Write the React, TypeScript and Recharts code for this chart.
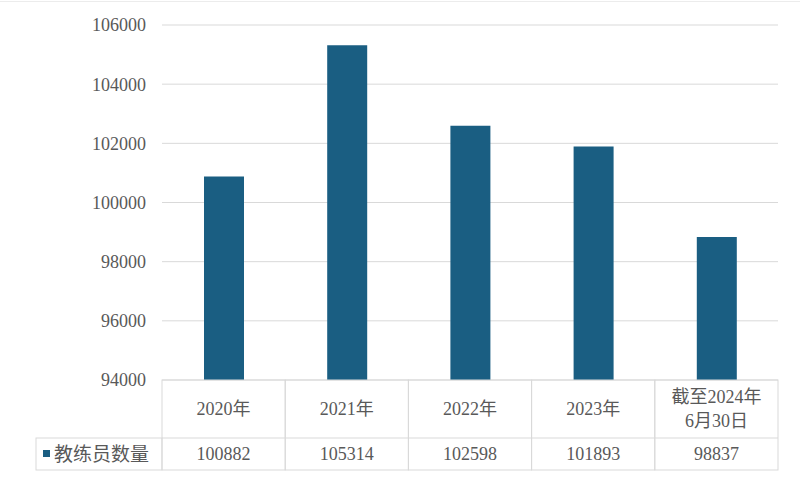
import { BarChart, Bar, XAxis, YAxis, CartesianGrid } from 'recharts';

const categories = ['2020年', '2021年', '2022年', '2023年', '截至2024年\n6月30日'];
const coachCounts = [100882, 105314, 102598, 101893, 98837];
const yTicks = [94000, 96000, 98000, 100000, 102000, 104000, 106000];
const seriesName = '教练员数量';

const BAR_COLOR = '#1a5e82';
const LINE = '#d9d9d9';
const TEXT = '#595959';
const FONT = "'Liberation Serif', 'Noto Sans CJK SC', serif";

const chartData = categories.map((c, i) => ({ name: c, value: coachCounts[i] }));

// header row + data row drawn under each category, like Excel's data table
function TableTick(props: any) {
  const { x, y, payload, index } = props;
  const half = (payload?.offset ?? 61.6);
  const headH = 58;
  const rowH = 32;
  const lines = String(payload.value).split('\n');
  const left = x - half;
  return (
    <g>
      <rect x={left} y={y} width={half * 2} height={headH + rowH} fill="none" stroke={LINE} />
      <line x1={left} x2={left + half * 2} y1={y + headH} y2={y + headH} stroke={LINE} />
      {lines.map((l, i) => (
        <text
          key={i}
          x={x}
          y={y + headH / 2 + (i - (lines.length - 1) / 2) * 24}
          textAnchor="middle"
          dominantBaseline="central"
          fill={TEXT}
          fontSize={18}
          fontFamily={FONT}
        >
          {l}
        </text>
      ))}
      <text
        x={x}
        y={y + headH + rowH / 2}
        textAnchor="middle"
        dominantBaseline="central"
        fill={TEXT}
        fontSize={18}
        fontFamily={FONT}
      >
        {coachCounts[index]}
      </text>
      {index === 0 && (
        <g>
          <rect x={36} y={y + headH} width={left - 36} height={rowH} fill="none" stroke={LINE} />
          <rect x={43} y={y + headH + 12} width={7} height={7} fill={BAR_COLOR} />
          <text
            x={54}
            y={y + headH + rowH / 2}
            dominantBaseline="central"
            fill={TEXT}
            fontSize={19}
            fontFamily={FONT}
          >
            {seriesName}
          </text>
        </g>
      )}
    </g>
  );
}

export default function App() {
  return (
    <div style={{ position: 'absolute', left: 0, top: 0, width: 800, height: 481, background: '#fff' }}>
      <svg width={800} height={4} style={{ position: 'absolute', left: 0, top: 0 }}>
        <line x1={0} x2={800} y1={1.5} y2={1.5} stroke="#ececec" />
      </svg>
      <BarChart
        width={800}
        height={481}
        data={chartData}
        margin={{ top: 25, right: 22, left: 0, bottom: 11 }}
        barCategoryGap="33%"
      >
        <CartesianGrid vertical={false} stroke={LINE} />
        <XAxis
          dataKey="name"
          height={90}
          axisLine={false}
          tickLine={false}
          tickSize={0}
          tickMargin={0}
          interval={0}
          tick={<TableTick />}
        />
        <YAxis
          width={162}
          domain={[94000, 106000]}
          ticks={yTicks}
          axisLine={false}
          tickLine={false}
          tickMargin={10}
          tick={{ fill: TEXT, fontSize: 18, fontFamily: FONT }}
        />
        <Bar dataKey="value" fill={BAR_COLOR} barSize={40} isAnimationActive={false} />
      </BarChart>
    </div>
  );
}
